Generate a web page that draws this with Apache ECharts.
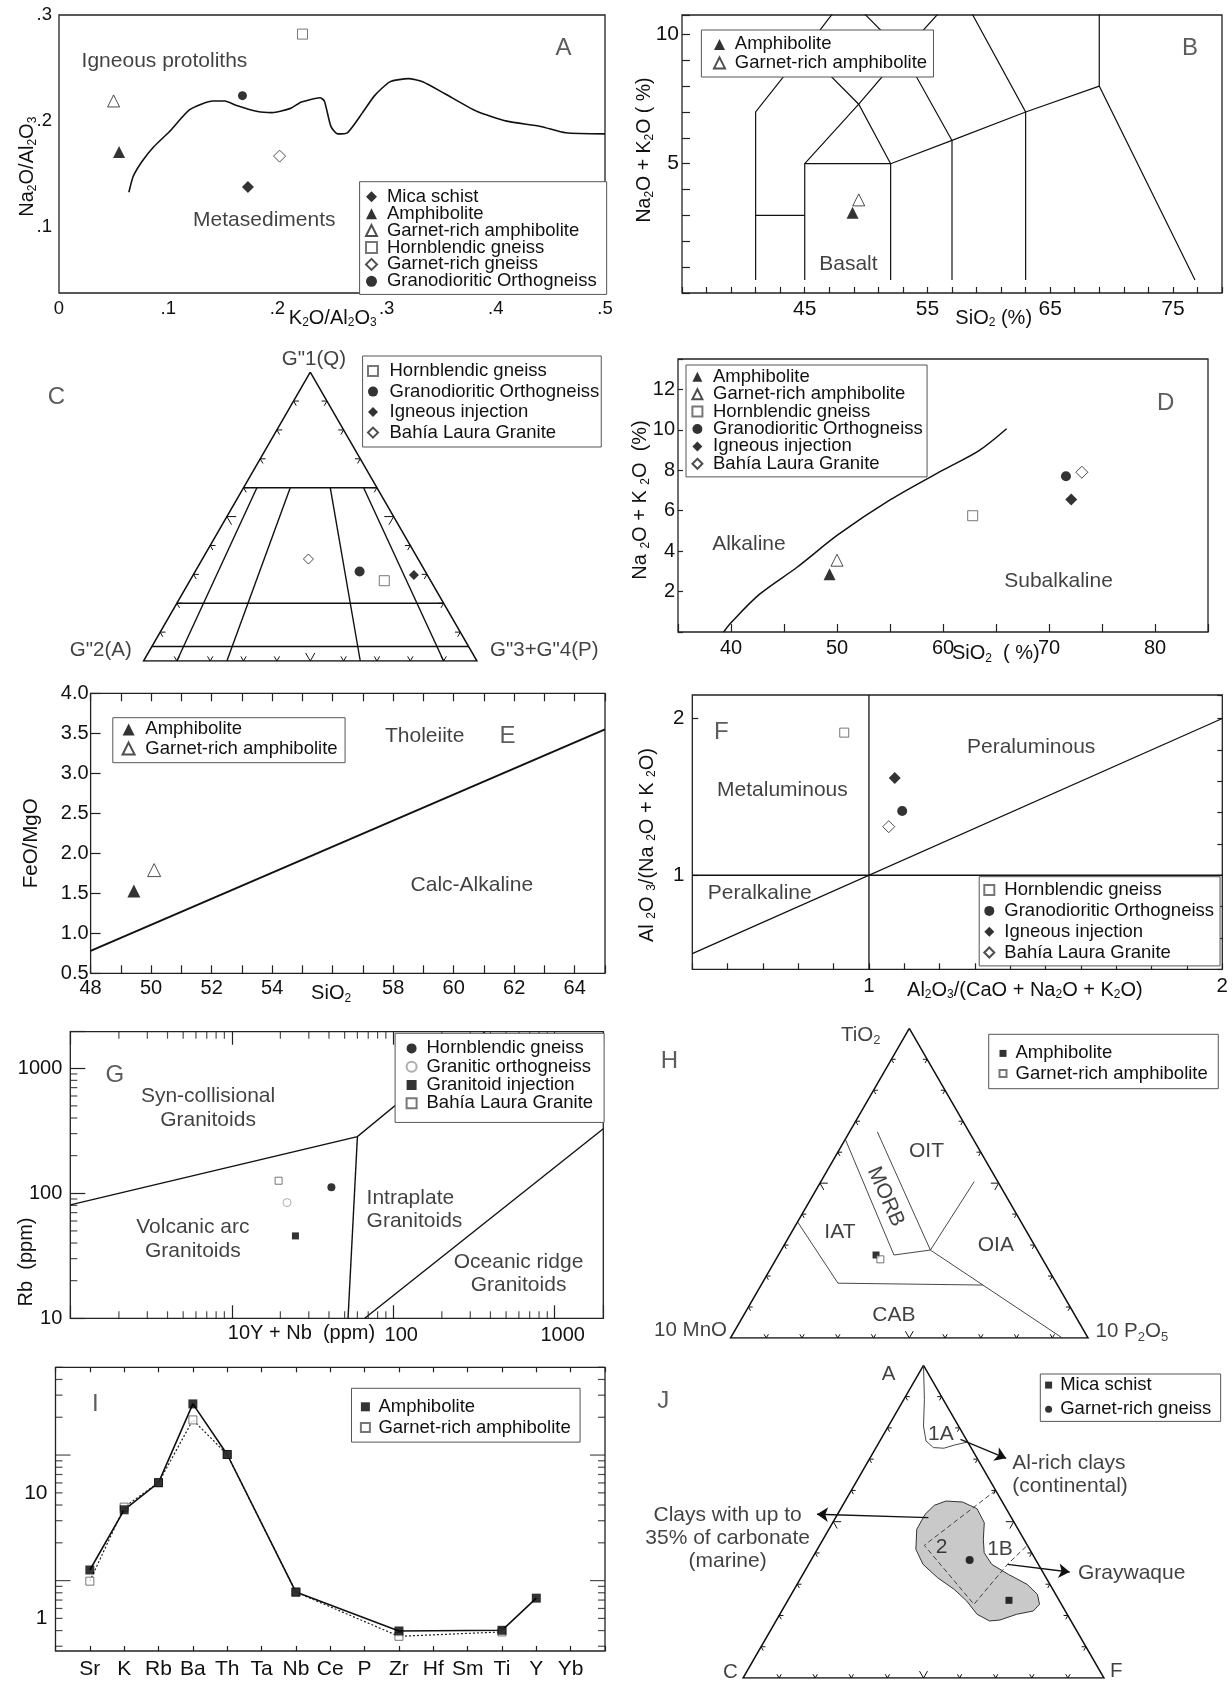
<!DOCTYPE html>
<html><head><meta charset="utf-8">
<script src="https://cdn.jsdelivr.net/npm/echarts@6/dist/echarts.min.js"></script>
<style>html,body{margin:0;padding:0;background:#fff}#c{width:1232px;height:1681px}</style>
</head><body><div id="c"></div>
<script>
// ================= DATA =================
// A : Na2O/Al2O3 vs K2O/Al2O3
const aCurve = [[0.064,0.133],[0.068,0.148],[0.076,0.162],[0.087,0.176],[0.101,0.190],[0.120,0.211],[0.141,0.219],[0.152,0.219],[0.162,0.215],[0.182,0.209],[0.195,0.208],[0.212,0.212],[0.222,0.218],[0.239,0.222],[0.243,0.219],[0.249,0.195],[0.255,0.188],[0.264,0.189],[0.278,0.208],[0.289,0.224],[0.303,0.237],[0.320,0.240],[0.333,0.237],[0.353,0.226],[0.383,0.209],[0.410,0.200],[0.441,0.195],[0.464,0.189],[0.500,0.188]];
const aMicaSchist = [[0.173,0.138]];
const aAmphibolite = [[0.055,0.171]];
const aGarnetAmph = [[0.050,0.219]];
const aHornblendic = [[0.223,0.282]];
const aGarnetGneiss = [[0.202,0.167]];
const aGranodiorite = [[0.168,0.224]];
// B : TAS
const bFieldLines = [
  [[41,0.5],[41,7],[45,9.4],[48.4,11.5]],
  [[41,3],[45,3]],
  [[45,0.5],[45,5],[52,5],[52,0.5]],
  [[45,5],[49.4,7.3],[53,9.3],[57.6,11.7]],
  [[45,9.4],[49.4,7.3],[52,5]],
  [[48.4,11.5],[53,9.3],[57,5.9]],
  [[52,5],[57,5.9],[63,7],[69,8]],
  [[57,0.5],[57,5.9]],
  [[57.6,11.7],[63,7],[63,0.5]],
  [[69,12],[69,8],[76.8,0.5]]
];
const bAmphibolite = [[48.9,3.1]];
const bGarnetAmph = [[49.4,3.6]];
// C : ternary (G"1 Q, G"2 A, G"3+G"4 P)
const cFieldLines = [
  [[60,40,0],[60,0,40]],
  [[20,80,0],[20,0,80]],
  [[5,95,0],[5,0,95]],
  [[60,36,4],[0,90,10]],
  [[60,26,14],[0,75,25]],
  [[60,14,26],[0,35,65]],
  [[60,4,36],[0,10,90]]
];
const cHornblendic = [[27.8,13.9,58.3]];
const cGranodiorite = [[31.0,19.7,49.3]];
const cIgneous = [[29.8,4.0,66.2]];
const cBahia = [[35.3,32.9,31.8]];
// D : alkaline / subalkaline
const dCurve = [[39.3,0],[40,0.46],[42.7,1.87],[46.2,3.19],[50.1,4.81],[55,6.53],[59.9,7.98],[63.4,8.97],[66,10.05]];
const dAmphibolite = [[49.3,2.86]];
const dGarnetAmph = [[50.0,3.55]];
const dHornblendic = [[62.8,5.75]];
const dGranodiorite = [[71.6,7.70]];
const dIgneous = [[72.1,6.55]];
const dBahia = [[73.1,7.90]];
// E : FeO/MgO vs SiO2
const eLine = [[48,0.78],[65,3.55]];
const eAmphibolite = [[49.43,1.53]];
const eGarnetAmph = [[50.1,1.79]];
// F : Shand
const fLines = [[[0.5,0.5],[2,2]],[[1,0.4],[1,2.15]],[[0.5,1],[2,1]]];
const fHornblendic = [[0.93,1.91]];
const fGranodiorite = [[1.094,1.41]];
const fIgneous = [[1.073,1.62]];
const fBahia = [[1.056,1.31]];
// G : Rb vs 10Y+Nb
const gLines = [[[1,80.7],[60,284],[370,1960]],[[60,284],[52.5,10]],[[66.6,10],[2000,328]]];
const gHornblendic = [[41.4,111.7]];
const gGranitic = [[22,84.2]];
const gGranitoid = [[24.8,45.6]];
const gBahia = [[19.5,126]];
// H : ternary (TiO2, 10 MnO, 10 P2O5)
const hFieldLines = [
  [[37.5,62.5,0],[17.7,61.1,21.2],[17.1,20.9,62.0]],
  [[28.4,29.9,41.7],[0,7.2,92.8]],
  [[64.2,35.8,0],[26.8,40.9,32.3],[28.4,29.9,41.7]],
  [[66.6,25.65,7.75],[28.4,29.9,41.7]],
  [[50.5,6.6,42.9],[28.4,29.9,41.7]]
];
const hAmphibolite = [[26.8,45.9,27.3]];
const hGarnetAmph = [[25.4,45.4,29.2]];
// I : spider diagram
const iElements = ['Sr','K','Rb','Ba','Th','Ta','Nb','Ce','P','Zr','Hf','Sm','Ti','Y','Yb'];
const iAmphibolite = [2.43,7.33,12.05,51.1,20.2,null,1.62,null,null,0.794,null,null,0.804,1.45,null];
const iGarnetAmph  = [1.98,7.70,12.05,38.1,20.2,null,1.62,null,null,0.72,null,null,0.78,null,null];
// J : ternary (A, C, F)
const j1A = [[100,0,0],[89.1,5.2,5.7],[80.6,9.7,9.7],[75.8,11.4,12.8],[73.7,10.4,15.9],[73.5,7.6,18.9],[74.5,4.2,21.3],[75.5,0,24.5]];
const jGroup = [[56.6,15.5,27.9],[56.3,11.05,32.65],[54.15,8.1,37.75],[49.67,8.33,42.0],[44.36,11.24,44.4],[40.1,13.15,46.75],[36.37,12.93,50.7],[33.17,9.93,56.9],[29.97,6.33,63.7],[26.77,5.06,68.17],[23.57,6.08,70.35],[21.43,8.89,69.68],[20.37,14.03,65.6],[18.55,19.55,61.9],[18.24,22.56,59.2],[20.37,24.97,54.66],[24.63,25.72,49.65],[28.37,27.33,44.3],[32.08,30.06,37.86],[36.37,31.96,31.67],[41.17,31.53,27.3],[47.57,28.08,24.35],[52.37,23.37,24.26],[55.24,19.38,25.38]];
const jDivide = [[[60,0,40],[42.45,28.55,29.0],[23.57,24.23,52.2],[36.37,8.53,55.1],[42.45,0,57.55]]];
const jArrows = [[[51.27,23.01,25.72],[52.37,53.31,-5.68]],[[76.35,1.58,22.07],[70.28,-8.04,37.76]],[[36.37,8.55,55.08],[33.9,-7.45,73.55]]];
const jMicaSchist = [[24.85,13.9,61.25]];
const jGarnetGneiss = [[37.75,18.35,43.9]];
// tick values
const ternTicks = [10,20,30,40,50,60,70,80,90];
const triOutline = [[100,0,0],[0,100,0],[0,0,100],[100,0,0]];
const gMinorX = [2,3,4,5,6,7,8,9,20,30,40,50,60,70,80,90,200,300,400,500,600,700,800,900];
const gMinorY = [20,30,40,50,60,70,80,90,200,300,400,500,600,700,800,900];
const iLongTicks = [2,20];
const iShortTicks = [0.6,0.8,1,1.2,1.4,1.6,1.8,4,6,8,10,12,14,16,18,40,60,80,100];

// ================= LAYOUT =================
const FONT = '"Liberation Sans", Arial, Helvetica, sans-serif';
const S3 = Math.sqrt(3) / 2;
function tern(p) { const s = p[0] + p[1] + p[2]; const a = p[0] / s, r = p[2] / s; return [r + a / 2, a * S3]; }
const near = (v, arr) => arr.some(t => Math.abs(v - t) <= 1e-6 * Math.max(1, Math.abs(t)));

const L = {
  A: {left: 59, top: 15, width: 546, height: 278},
  B: {left: 682, top: 15, width: 540, height: 278},
  C: {left: 143.5, top: 661 - 333.5 * S3, width: 333.5, height: 333.5 * S3},
  D: {left: 678, top: 359, width: 530, height: 273},
  E: {left: 90.6, top: 693.3, width: 514.4, height: 280},
  F: {left: 692.3, top: 695, width: 530, height: 274.3},
  G: {left: 70.3, top: 1031.7, width: 533, height: 286.6},
  H: {left: 730.5, top: 1338 - 357.6 * S3, width: 357.6, height: 357.6 * S3},
  I: {left: 55.5, top: 1367.3, width: 549.5, height: 283.7},
  J: {left: 743, top: 1678 - 361 * S3, width: 361, height: 361 * S3}
};
const ORDER = ['A','B','C','D','E','F','G','H','I','J'];
const grids = ORDER.map(k => Object.assign({show: !'CHJ'.includes(k), borderColor: '#222', borderWidth: 1.3}, L[k]));

function lab(fs, margin, fmt, extra) { return Object.assign({show: true, fontSize: fs, margin: margin, color: '#111', fontFamily: FONT, formatter: fmt}, extra || {}); }
function ticks(len, extra) { return Object.assign({show: true, inside: true, length: len, lineStyle: {color: '#222', width: 1.2}}, extra || {}); }
function vAxis(gridIndex, o) { return Object.assign({gridIndex: gridIndex, type: 'value', axisLine: {show: false}, splitLine: {show: false}, axisTick: {show: false}, axisLabel: {show: false}}, o); }
const intLab = list => v => near(v, list) ? String(Math.round(v)) : '';

const xAxes = [
  vAxis(0, {min: 0, max: 0.5, interval: 0.1, axisLabel: lab(18.5, 6, v => near(v, [0]) ? '0' : '.' + Math.round(v * 10))}),
  vAxis(1, {min: 35, max: 79, interval: 2, axisTick: ticks(6), axisLabel: lab(21, 6, intLab([45,55,65,75]))}),
  vAxis(2, {min: 0, max: 1, show: false}),
  vAxis(3, {min: 35, max: 85, interval: 5, axisTick: ticks(8), axisLabel: lab(20, 6, intLab([40,50,60,70,80]))}),
  vAxis(4, {min: 48, max: 65, interval: 1, axisTick: ticks(8), axisLabel: lab(20, 5, intLab([48,50,52,54,58,60,62,64]))}),
  vAxis(5, {min: 0.5, max: 2, interval: 0.1, axisTick: ticks(6), axisLabel: lab(20.5, 7, intLab([1,2]))}),
  vAxis(6, {type: 'log', logBase: 10, min: 1, max: 2000, axisTick: ticks(13), axisLabel: lab(20, 7, intLab([100,1000]), {padding: [0, 0, 0, 16]})}),
  vAxis(7, {min: 0, max: 1, show: false}),
  vAxis(8, {min: 0, max: 16, interval: 1, axisTick: ticks(5), axisLabel: lab(21, 8, v => { const r = Math.round(v); return (Math.abs(v - r) < 1e-6 && r >= 1 && r <= iElements.length) ? iElements[r - 1] : ''; })}),
  vAxis(9, {min: 0, max: 1, show: false}),
  vAxis(4, {position: 'top', min: 48, max: 65, interval: 1, axisTick: ticks(8)}),
  vAxis(6, {position: 'top', type: 'log', logBase: 10, min: 1, max: 2000, axisTick: ticks(13)}),
  vAxis(8, {position: 'top', min: 0, max: 16, interval: 1, axisTick: ticks(5)})
];
const yAxes = [
  vAxis(0, {min: 0.038, max: 0.3, splitNumber: 3, axisLabel: lab(18.5, 7, v => near(v, [0.1]) ? '.1' : near(v, [0.2]) ? '.2' : near(v, [0.3]) ? '.3' : '', {padding: [6, 0, 0, 0]})}),
  vAxis(1, {min: 0, max: 10.75, interval: 1, axisTick: ticks(8), axisLabel: lab(21, 3, intLab([5,10]))}),
  vAxis(2, {min: 0, max: S3, show: false}),
  vAxis(3, {min: 0, max: 13.5, interval: 2, axisTick: ticks(5), axisLabel: lab(20, 3, intLab([2,4,6,8,10,12]))}),
  vAxis(4, {min: 0.5, max: 4, interval: 0.5, axisTick: ticks(10), axisLabel: lab(20, 2, v => v.toFixed(1))}),
  vAxis(5, {min: 0.4, max: 2.15, interval: 0.2, axisTick: ticks(6, {customValues: [1, 2]}), axisLabel: lab(20.5, 8, intLab([1,2]))}),
  vAxis(6, {type: 'log', logBase: 10, min: 10, max: 1960, axisTick: ticks(15), axisLabel: lab(20, 8, intLab([10,100,1000]))}),
  vAxis(7, {min: 0, max: S3, show: false}),
  vAxis(8, {type: 'log', logBase: 10, min: 0.55, max: 100, axisLabel: lab(21, 8, intLab([1,10]))}),
  vAxis(9, {min: 0, max: S3, show: false}),
  vAxis(5, {position: 'right', min: 0.4, max: 2.15, interval: 0.2, axisTick: ticks(5)})
];

// marker styles
const STY = {
  fDiamond: {symbol: 'diamond', itemStyle: {color: '#000'}},
  oDiamond: {symbol: 'diamond', itemStyle: {color: '#fff', borderColor: '#222', borderWidth: 1}},
  fTri: {symbol: 'triangle', itemStyle: {color: '#000'}},
  oTri: {symbol: 'triangle', itemStyle: {color: '#fff', borderColor: '#222', borderWidth: 1}},
  oSquare: {symbol: 'rect', itemStyle: {color: '#fff', borderColor: '#555', borderWidth: 1}},
  fSquare: {symbol: 'rect', itemStyle: {color: '#000'}},
  fCircle: {symbol: 'circle', itemStyle: {color: '#000'}},
  oCircle: {symbol: 'circle', itemStyle: {color: '#fff', borderColor: '#999', borderWidth: 1}}
};
function pts(name, g, data, sty, size, ternary) {
  return {type: 'scatter', name: name, xAxisIndex: g, yAxisIndex: g, data: ternary ? data.map(tern) : data,
    symbol: STY[sty].symbol, itemStyle: STY[sty].itemStyle, symbolSize: size, z: 6, silent: true};
}
function segs(g, polylines, style, ternary) {
  return {type: 'lines', coordinateSystem: 'cartesian2d', xAxisIndex: g, yAxisIndex: g, polyline: true, silent: true, z: 3,
    data: polylines.map(c => ({coords: ternary ? c.map(tern) : c})),
    lineStyle: Object.assign({color: '#111', width: 1.2, opacity: 1}, style)};
}
function curve(g, data, style, smooth) {
  return {type: 'line', xAxisIndex: g, yAxisIndex: g, data: data, showSymbol: false, symbol: 'none', smooth: smooth || false, silent: true, z: 3,
    lineStyle: Object.assign({color: '#111', width: 1.5}, style)};
}
function tickMarks(g, data, size, offset) {
  return {type: 'scatter', xAxisIndex: g, yAxisIndex: g, data: data, clip: false, silent: true, symbol: 'rect',
    symbolSize: size, symbolOffset: offset, itemStyle: {color: '#222'}, z: 4};
}
function ternTickLines(small, big) {
  const out = [];
  ternTicks.forEach(t => {
    const d = t === 50 ? big : small;
    out.push([[d, 100 - t - d, t], [0, 100 - t, t], [d, 100 - t, t - d]]);
    out.push([[t, 100 - t - d, d], [t, 100 - t, 0], [t - d, 100 - t, d]]);
    out.push([[t, d, 100 - t - d], [t, 0, 100 - t], [t - d, d, 100 - t]]);
  });
  return out;
}
const RICH = {s: {fontSize: 13, lineHeight: 8, verticalAlign: 'bottom', color: '#111', fontFamily: FONT}};
function notes(g, list) {
  return {type: 'scatter', xAxisIndex: g, yAxisIndex: g, clip: false, silent: true, symbolSize: 1,
    itemStyle: {color: 'rgba(0,0,0,0)'}, z: 7,
    data: list.map(n => ({value: [n.x, n.y], label: {show: true, position: 'inside', formatter: n.t,
      fontSize: n.letter ? 24 : (n.fs || 21), fontFamily: FONT, color: n.letter ? '#333' : '#111',
      align: n.align || 'center', verticalAlign: 'middle', rotate: n.rot || 0, lineHeight: n.lh || 23.5, rich: RICH}}))};
}

// annotation placements (data coords of each panel; ternary panels use the triangle's x/y frame)
const notesA = [{x: 0.0966, y: 0.2567, t: 'Igneous protoliths'}, {x: 0.188, y: 0.1066, t: 'Metasediments'}, {x: 0.462, y: 0.269, t: 'A', letter: 1}];
const notesB = [{x: 48.56, y: 1.13, t: 'Basalt'}, {x: 76.4, y: 9.46, t: 'B', letter: 1}];
const notesC = [{x: -0.261, y: 0.7907, t: 'C', letter: 1}, {x: 0.511, y: 0.905, t: 'G"1(Q)', fs: 20.5},
  {x: -0.128, y: 0.033, t: 'G"2(A)', fs: 20.5}, {x: 1.039, y: 0.033, t: 'G"3+G"4(P)', fs: 20.5, align: 'left'}];
const notesD = [{x: 41.69, y: 4.35, t: 'Alkaline'}, {x: 70.9, y: 2.53, t: 'Subalkaline'}, {x: 81.0, y: 11.32, t: 'D', letter: 1}];
const notesE = [{x: 59.04, y: 3.46, t: 'Tholeiite'}, {x: 61.78, y: 3.46, t: 'E', letter: 1}, {x: 60.6, y: 1.606, t: 'Calc-Alkaline'}];
const notesF = [{x: 0.5824, y: 1.911, t: 'F', letter: 1}, {x: 1.459, y: 1.82, t: 'Peraluminous'}, {x: 0.755, y: 1.5445, t: 'Metaluminous'}, {x: 0.691, y: 0.8835, t: 'Peralkaline'}];
const notesG = [{x: 1.886, y: 884, t: 'G', letter: 1}, {x: 7.13, y: 479, t: 'Syn-collisional\nGranitoids'}, {x: 5.74, y: 42.8, t: 'Volcanic arc\nGranitoids'},
  {x: 68.4, y: 73.6, t: 'Intraplate\nGranitoids', align: 'left'}, {x: 597, y: 22.7, t: 'Oceanic ridge\nGranitoids'}];
const notesH = [{x: -0.171, y: 0.7727, t: 'H', letter: 1}, {x: 0.364, y: 0.847, t: 'TiO{s|2}', fs: 20.5}, {x: 0.548, y: 0.521, t: 'OIT'},
  {x: 0.434, y: 0.395, t: 'MORB', rot: -66}, {x: 0.306, y: 0.297, t: 'IAT'}, {x: 0.742, y: 0.260, t: 'OIA'}, {x: 0.457, y: 0.0643, t: 'CAB'},
  {x: -0.0098, y: 0.0224, t: '10 MnO', align: 'right', fs: 20.5}, {x: 1.021, y: 0.0176, t: '10 P{s|2}O{s|5}', align: 'left', fs: 20.5}];
const notesI = [{x: 1.16, y: 51, t: 'I', letter: 1}];
const notesJ = [{x: -0.221, y: 0.7673, t: 'J', letter: 1}, {x: 0.403, y: 0.841, t: 'A', fs: 20.5}, {x: -0.0346, y: 0.0147, t: 'C', fs: 20.5},
  {x: 1.034, y: 0.0194, t: 'F', fs: 20.5}, {x: 0.548, y: 0.675, t: '1A'}, {x: 0.550, y: 0.363, t: '2'}, {x: 0.712, y: 0.358, t: '1B'},
  {x: 0.746, y: 0.5635, t: 'Al-rich clays\n(continental)', align: 'left', lh: 22.7},
  {x: -0.0427, y: 0.3874, t: 'Clays with up to\n35% of carbonate\n(marine)', lh: 22.8}, {x: 0.928, y: 0.290, t: 'Graywaque', align: 'left'}];

const toXY = (arr) => arr.map((v, k) => v == null ? null : [k + 1, v]).filter(p => p);
const jGroupXY = jGroup.map(tern);

const series = [
  // A
  curve(0, aCurve, {width: 1.6}, 0.2),
  pts('Mica schist#A', 0, aMicaSchist, 'fDiamond', 12), pts('Amphibolite#A', 0, aAmphibolite, 'fTri', 12),
  pts('Garnet-rich amphibolite#A', 0, aGarnetAmph, 'oTri', 12), pts('Hornblendic gneiss#A', 0, aHornblendic, 'oSquare', 10),
  pts('Garnet-rich gneiss#A', 0, aGarnetGneiss, 'oDiamond', 12), pts('Granodioritic Orthogneiss#A', 0, aGranodiorite, 'fCircle', 9),
  notes(0, notesA),
  // B
  segs(1, bFieldLines, {width: 1.2}),
  pts('Amphibolite#B', 1, bAmphibolite, 'fTri', 12), pts('Garnet-rich amphibolite#B', 1, bGarnetAmph, 'oTri', 12),
  notes(1, notesB),
  // C
  segs(2, [triOutline], {width: 1.5}, true), segs(2, cFieldLines, {width: 1.4}, true), segs(2, ternTickLines(1.6, 2.8), {width: 1}, true),
  pts('Hornblendic gneiss#C', 2, cHornblendic, 'oSquare', 10, true), pts('Granodioritic Orthogneiss#C', 2, cGranodiorite, 'fCircle', 10, true),
  pts('Igneous injection#C', 2, cIgneous, 'fDiamond', 10, true), pts('Bahía Laura Granite#C', 2, cBahia, 'oDiamond', 10, true),
  notes(2, notesC),
  // D
  curve(3, dCurve, {width: 1.5}, 0.3),
  pts('Amphibolite#D', 3, dAmphibolite, 'fTri', 12), pts('Garnet-rich amphibolite#D', 3, dGarnetAmph, 'oTri', 12),
  pts('Hornblendic gneiss#D', 3, dHornblendic, 'oSquare', 10), pts('Granodioritic Orthogneiss#D', 3, dGranodiorite, 'fCircle', 10),
  pts('Igneous injection#D', 3, dIgneous, 'fDiamond', 12), pts('Bahía Laura Granite#D', 3, dBahia, 'oDiamond', 12),
  notes(3, notesD),
  // E
  curve(4, eLine, {width: 2}),
  pts('Amphibolite#E', 4, eAmphibolite, 'fTri', 13), pts('Garnet-rich amphibolite#E', 4, eGarnetAmph, 'oTri', 13),
  notes(4, notesE),
  // F
  segs(5, fLines, {width: 1.3}),
  pts('Hornblendic gneiss#F', 5, fHornblendic, 'oSquare', 9), pts('Granodioritic Orthogneiss#F', 5, fGranodiorite, 'fCircle', 10),
  pts('Igneous injection#F', 5, fIgneous, 'fDiamond', 12), pts('Bahía Laura Granite#F', 5, fBahia, 'oDiamond', 12),
  notes(5, notesF),
  // G
  segs(6, gLines, {width: 1.4}),
  tickMarks(6, gMinorX.map(v => [v, 10]), [1.2, 7], [0, -3.5]),
  tickMarks(6, gMinorX.map(v => [v, 1960]), [1.2, 7], [0, 3.5]),
  tickMarks(6, gMinorY.map(v => [1, v]), [7, 1.2], [3.5, 0]),
  pts('Hornblendic gneiss#G', 6, gHornblendic, 'fCircle', 8), pts('Granitic orthogneiss#G', 6, gGranitic, 'oCircle', 8),
  pts('Granitoid injection#G', 6, gGranitoid, 'fSquare', 7), pts('Bahía Laura Granite#G', 6, gBahia, 'oSquare', 7),
  notes(6, notesG),
  // H
  segs(7, [triOutline], {width: 1.5}, true), segs(7, hFieldLines, {width: 0.9, color: '#333'}, true), segs(7, ternTickLines(1.2, 2.2), {width: 1}, true),
  pts('Amphibolite#H', 7, hAmphibolite, 'fSquare', 7, true), pts('Garnet-rich amphibolite#H', 7, hGarnetAmph, 'oSquare', 7, true),
  notes(7, notesH),
  // I
  curve(8, toXY(iGarnetAmph), {width: 1.2, color: '#222', type: [2, 2]}),
  curve(8, toXY(iAmphibolite), {width: 1.6, color: '#111'}),
  tickMarks(8, iShortTicks.map(v => [0, v]), [7, 1.2], [3.5, 0]),
  tickMarks(8, iLongTicks.map(v => [0, v]), [15, 1.2], [7.5, 0]),
  tickMarks(8, iShortTicks.map(v => [16, v]), [7, 1.2], [-3.5, 0]),
  tickMarks(8, iLongTicks.map(v => [16, v]), [15, 1.2], [-7.5, 0]),
  pts('Garnet-rich amphibolite#I', 8, toXY(iGarnetAmph), 'oSquare', 8),
  pts('Amphibolite#I', 8, toXY(iAmphibolite), 'fSquare', 9),
  notes(8, notesI),
  // J
  {type: 'custom', coordinateSystem: 'cartesian2d', xAxisIndex: 9, yAxisIndex: 9, silent: true, z: 2, data: jGroupXY,
    renderItem: (params, api) => params.dataIndex === 0
      ? {type: 'polygon', shape: {points: jGroupXY.map(p => api.coord(p))}, style: {fill: '#c9c9c9', stroke: '#333', lineWidth: 1}}
      : {type: 'group', children: []}},
  segs(9, [triOutline], {width: 1.5}, true), segs(9, [j1A], {width: 0.9, color: '#333'}, true),
  segs(9, jDivide, {width: 1, color: '#444', type: [5, 3]}, true), segs(9, ternTickLines(1.2, 2.2), {width: 1}, true),
  {type: 'lines', coordinateSystem: 'cartesian2d', xAxisIndex: 9, yAxisIndex: 9, silent: true, z: 3, symbol: ['none', 'arrow'], symbolSize: 11,
    data: jArrows.map(c => ({coords: c.map(tern)})), lineStyle: {color: '#111', width: 1.3, opacity: 1}},
  pts('Mica schist#J', 9, jMicaSchist, 'fSquare', 7, true), pts('Garnet-rich gneiss#J', 9, jGarnetGneiss, 'fCircle', 8, true),
  notes(9, notesJ)
];

const legendDefs = [
  {names: ['Mica schist#A','Amphibolite#A','Garnet-rich amphibolite#A','Hornblendic gneiss#A','Garnet-rich gneiss#A','Granodioritic Orthogneiss#A'], left: 359.6, top: 181.7, pad: [5.6, 10, 3.6, 5.4], gap: -2.1, iw: 11, tp: 4.9},
  {names: ['Amphibolite#B','Garnet-rich amphibolite#B'], left: 701.4, top: 30, pad: [4.9, 6.4, 4.6, 11.6], gap: -0.5, iw: 11, tp: 4.8},
  {names: ['Hornblendic gneiss#C','Granodioritic Orthogneiss#C','Igneous injection#C','Bahía Laura Granite#C'], left: 362.6, top: 356, pad: [5.6, 2, 4.9, 4.4], gap: 1.5, iw: 10, tp: 6.5},
  {names: ['Amphibolite#D','Garnet-rich amphibolite#D','Hornblendic gneiss#D','Granodioritic Orthogneiss#D','Igneous injection#D','Bahía Laura Granite#D'], left: 686, top: 365, pad: [2.3, 4.3, 3.6, 5.4], gap: -1.6, iw: 10, tp: 5.6},
  {names: ['Amphibolite#E','Garnet-rich amphibolite#E'], left: 112.8, top: 717.7, pad: [2.2, 7.5, 4.6, 8.8], gap: 0.2, iw: 12, tp: 5.7},
  {names: ['Hornblendic gneiss#F','Granodioritic Orthogneiss#F','Igneous injection#F','Bahía Laura Granite#F'], left: 979.2, top: 876.7, pad: [3.9, 6, 3.9, 4.1], gap: 1.8, iw: 10, tp: 5},
  {names: ['Hornblendic gneiss#G','Granitic orthogneiss#G','Granitoid injection#G','Bahía Laura Granite#G'], left: 395.1, top: 1033.3, pad: [5.6, 11, 9.6, 10.5], gap: -0.7, iw: 10, tp: 4.9},
  {names: ['Amphibolite#H','Garnet-rich amphibolite#H'], left: 988.7, top: 1034.3, pad: [9.6, 10.5, 5.6, 9.8], gap: 1.2, iw: 7, tp: 4},
  {names: ['Amphibolite#I','Garnet-rich amphibolite#I'], left: 351.5, top: 1388.3, pad: [9.0, 9.4, 5.0, 8.4], gap: 1.8, iw: 9, tp: 3.5},
  {names: ['Mica schist#J','Garnet-rich gneiss#J'], left: 1040.3, top: 1374, pad: [1.6, 9.3, 2.6, 4.8], gap: 5.2, iw: 7, tp: 3.1}
];
const legends = legendDefs.map(d => ({
  orient: 'vertical', left: d.left, top: d.top, padding: d.pad, itemGap: d.gap, itemWidth: d.iw, itemHeight: d.iw,
  selectedMode: false, data: d.names, formatter: n => n.split('#')[0], backgroundColor: '#fff', borderColor: '#555', borderWidth: 1, z: 8,
  textStyle: {fontFamily: FONT, fontSize: 18.5, color: '#111', padding: [0, 0, 0, d.tp]}
}));

function gtext(x, y, text, fs, rot) {
  return {type: 'text', x: x, y: y, rotation: rot ? Math.PI / 2 : 0, silent: true, z: 10,
    style: {text: text, fontSize: fs, fontFamily: FONT, fill: '#111', align: 'center', verticalAlign: 'middle', lineHeight: fs + 2,
      rich: {s: {fontSize: Math.round(fs * 0.62), lineHeight: 8, verticalAlign: 'bottom', fill: '#111', fontFamily: FONT}}}};
}
const titles = [
  gtext(332.7, 318, 'K{s|2}O/Al{s|2}O{s|3}', 20),
  gtext(27.7, 166.7, 'Na{s|2}O/Al{s|2}O{s|3}', 20, true),
  gtext(993.7, 318, 'SiO{s|2} (%)', 20),
  gtext(644.5, 150, 'Na{s|2}O + K{s|2}O ( %)', 19.5, true),
  gtext(995.8, 653.3, 'SiO{s|2}  ( %)', 20),
  gtext(640.3, 500, 'Na {s|2}O + K {s|2}O  (%)', 20, true),
  gtext(331.1, 993.3, 'SiO{s|2}', 20),
  gtext(31.4, 843.3, 'FeO/MgO', 20.5, true),
  gtext(1024.9, 990, 'Al{s|2}O{s|3}/(CaO + Na{s|2}O + K{s|2}O)', 20),
  gtext(647, 845, 'Al {s|2}O {s|3}/(Na {s|2}O + K {s|2}O)', 20, true),
  gtext(301.5, 1333.3, '10Y + Nb  (ppm)', 20),
  gtext(26, 1262, 'Rb  (ppm)', 20, true)
];

const chart = echarts.init(document.getElementById('c'));
chart.setOption({
  backgroundColor: '#fff', animation: false, textStyle: {fontFamily: FONT},
  grid: grids, xAxis: xAxes, yAxis: yAxes, legend: legends, series: series, graphic: titles
});
</script></body></html>
